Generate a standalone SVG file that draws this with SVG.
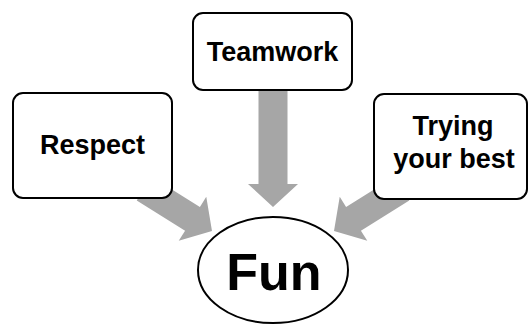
<svg xmlns="http://www.w3.org/2000/svg" width="528" height="324" viewBox="0 0 528 324">
  <defs>
    <style>
      .box { fill: #ffffff; stroke: #000000; stroke-width: 2; }
      .ell { fill: #ffffff; stroke: #000000; stroke-width: 2; }
      .lbl { font-family: "Liberation Sans", Arial, sans-serif; font-weight: bold; font-size: 27px; fill: #000000; text-anchor: middle; }
      .big { font-family: "Liberation Sans", Arial, sans-serif; font-weight: bold; font-size: 52px; fill: #000000; text-anchor: middle; }
      .arrow { fill: #a6a6a6; stroke: none; }
    </style>
  </defs>
  <rect width="528" height="324" fill="#ffffff"/>
  <g id="connectors">
    <polygon class="arrow" transform="translate(212,231) rotate(32)" points="-80,-14 -23,-14 -23,-26 0,0 -23,26 -23,14 -80,14"/>
    <polygon class="arrow" transform="translate(273,207) rotate(90)" points="-118,-14.5 -23,-14.5 -23,-25 0,0 -23,25 -23,14.5 -118,14.5"/>
    <polygon class="arrow" transform="translate(334,231) rotate(148)" points="-80,-14 -23,-14 -23,-26 0,0 -23,26 -23,14 -80,14"/>
  </g>
  <g id="node-respect">
    <rect class="box" x="13" y="93" width="159" height="105" rx="10" ry="10"/>
    <text class="lbl" x="92.5" y="154">Respect</text>
  </g>
  <g id="node-teamwork">
    <rect class="box" x="193" y="13" width="159" height="77" rx="10" ry="10"/>
    <text class="lbl" x="272.5" y="61">Teamwork</text>
  </g>
  <g id="node-trying">
    <rect class="box" x="374" y="94" width="153" height="105" rx="10" ry="10"/>
    <text class="lbl" x="453" y="135">Trying</text>
    <text class="lbl" x="454" y="168">your best</text>
  </g>
  <g id="node-fun">
    <ellipse class="ell" cx="273" cy="270" rx="75" ry="53"/>
    <text class="big" x="274" y="290">Fun</text>
  </g>
</svg>
